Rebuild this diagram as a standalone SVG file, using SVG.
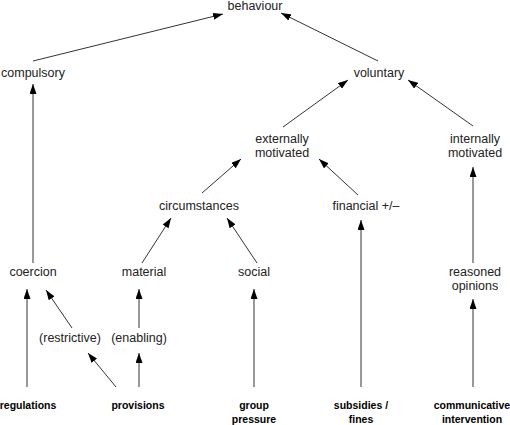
<svg xmlns="http://www.w3.org/2000/svg" width="510" height="425" viewBox="0 0 510 425">
<defs>
<marker id="ah" markerWidth="10" markerHeight="7" refX="10" refY="3.5" orient="auto" markerUnits="userSpaceOnUse">
<path d="M0,0 L10,3.5 L0,7 Z" fill="#000"/>
</marker>
<style>
text{font-family:"Liberation Sans",Arial,Helvetica,sans-serif;font-size:12.5px;fill:#222;text-anchor:middle}
text.b{font-weight:bold;font-size:10.5px;fill:#000}
.c line{stroke:#333;stroke-width:1;marker-end:url(#ah)}
</style>
</defs>
<rect width="510" height="425" fill="#fff"/>
<g class="c" id="connectors">
<line x1="33" y1="61" x2="223" y2="14"/>
<line x1="378" y1="61" x2="281" y2="13"/>
<line x1="283" y1="127" x2="348" y2="80"/>
<line x1="473" y1="126" x2="408" y2="80"/>
<line x1="33" y1="263" x2="33" y2="84"/>
<line x1="202" y1="193" x2="241" y2="159"/>
<line x1="358" y1="195" x2="319" y2="159"/>
<line x1="473" y1="263" x2="473" y2="167"/>
<line x1="142" y1="263" x2="171" y2="218"/>
<line x1="257" y1="263" x2="227" y2="218"/>
<line x1="361" y1="387" x2="361" y2="220"/>
<line x1="27" y1="387" x2="27" y2="289"/>
<line x1="72" y1="328" x2="46" y2="290"/>
<line x1="116" y1="387" x2="88" y2="353"/>
<line x1="139" y1="387" x2="139" y2="353"/>
<line x1="139" y1="328" x2="139" y2="289"/>
<line x1="254" y1="387" x2="254" y2="289"/>
<line x1="473" y1="387" x2="473" y2="299"/>
</g>
<g id="behaviour"><text x="255" y="10">behaviour</text></g>
<g id="compulsory"><text x="33" y="77">compulsory</text></g>
<g id="voluntary"><text x="379" y="77">voluntary</text></g>
<g id="externally"><text x="282" y="143">externally</text><text x="282" y="157">motivated</text></g>
<g id="internally"><text x="475" y="143">internally</text><text x="475" y="157">motivated</text></g>
<g id="circumstances"><text x="199" y="210">circumstances</text></g>
<g id="financial"><text x="366" y="210">financial +/–</text></g>
<g id="coercion"><text x="33" y="276">coercion</text></g>
<g id="material"><text x="144" y="276">material</text></g>
<g id="social"><text x="254" y="276">social</text></g>
<g id="reasoned"><text x="475" y="276">reasoned</text><text x="475" y="290">opinions</text></g>
<g id="restrictive"><text x="70" y="342">(restrictive)</text></g>
<g id="enabling"><text x="139" y="342">(enabling)</text></g>
<g id="regulations"><text class="b" x="28" y="409">regulations</text></g>
<g id="provisions"><text class="b" x="138" y="409">provisions</text></g>
<g id="group"><text class="b" x="254" y="409">group</text><text class="b" x="254" y="423">pressure</text></g>
<g id="subsidies"><text class="b" x="361" y="409">subsidies /</text><text class="b" x="361" y="423">fines</text></g>
<g id="communicative"><text class="b" x="472" y="409">communicative</text><text class="b" x="472" y="423">intervention</text></g>
</svg>
